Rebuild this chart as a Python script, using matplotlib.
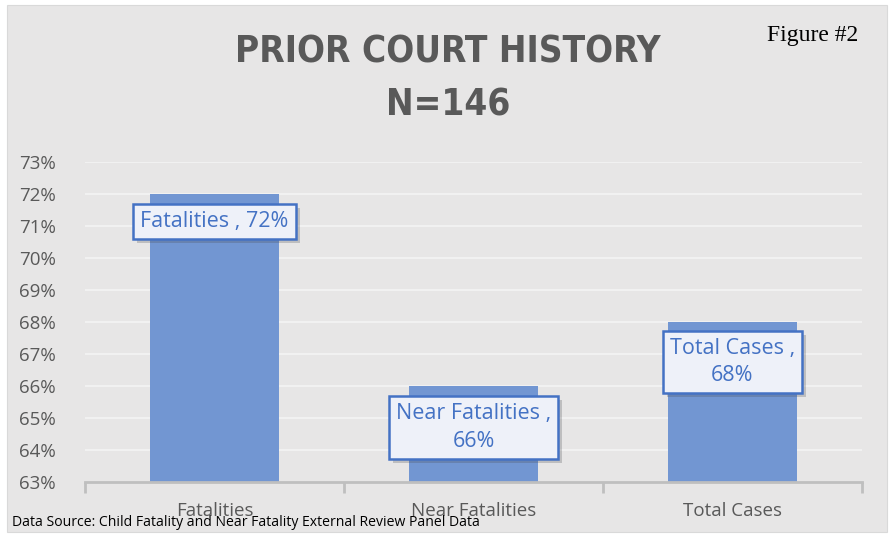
import matplotlib
matplotlib.use("Agg")
from matplotlib import pyplot as plt
import matplotlib.patches as mpatches
import matplotlib.patheffects as pe

categories = ['Fatalities', 'Near Fatalities', 'Total Cases']
values = [72, 66, 68]
box_texts = ['Fatalities , 72%', 'Near Fatalities ,\n66%', 'Total Cases ,\n68%']
yticks = list(range(63, 74))

sans = ['Open Sans', 'DejaVu Sans']
grey_txt = '#595959'
bar_col = '#7296d2'
blue = '#4472c4'

fig = plt.figure(figsize=(8.94, 5.35), dpi=100)
fig.patch.set_facecolor('white')
# grey chart area
fig.patches.append(mpatches.Rectangle((7 / 894, 3 / 535), 880 / 894, 527 / 535,
                                      transform=fig.transFigure, facecolor='#e7e6e6',
                                      edgecolor='#d9d9d9', linewidth=0.8, zorder=-5))

ax = fig.add_axes([85 / 894, 53 / 535, 777 / 894, 320 / 535])
ax.set_facecolor('none')
x = list(range(len(categories)))
ax.bar(x, [v - 63 for v in values], bottom=63, width=0.495, color=bar_col, zorder=2)
ax.set_xlim(-0.5, 2.5)
ax.set_ylim(63, 73)
ax.set_yticks(yticks)
ax.set_yticklabels([str(t) + '%' for t in yticks], family=sans, fontsize=13.5, color=grey_txt)
for t in yticks[1:]:
    ax.axhline(t, color='#f4f4f4', linewidth=1.2, zorder=1)
for s in ['top', 'right', 'left']:
    ax.spines[s].set_visible(False)
ax.spines['bottom'].set_color('#bfbfbf')
ax.spines['bottom'].set_linewidth(2)
ax.tick_params(axis='y', length=0, pad=21)
ax.set_xticks([-0.5, 0.5, 1.5, 2.5])
ax.set_xticklabels([])
ax.tick_params(axis='x', length=8, width=2, color='#bfbfbf', direction='out')
for i, c in enumerate(categories):
    ax.text(i, 62.1, c, ha='center', va='center', family=sans, fontsize=13.5,
            color=grey_txt, clip_on=False)

# data labels
offsets = [0.85, 1.3, 1.25]
for i, (v, s) in enumerate(zip(values, box_texts)):
    ax.text(i, v - offsets[i], s, ha='center', va='center', family=sans, fontsize=15.5,
            color=blue, linespacing=1.4, zorder=5,
            bbox=dict(boxstyle='square,pad=0.33', facecolor='#eef1f9', edgecolor=blue,
                      linewidth=1.8,
                      path_effects=[pe.SimplePatchShadow(offset=(3, -3), alpha=0.25),
                                    pe.Normal()]))

fig.text(448 / 894, 1 - 52 / 535, 'PRIOR COURT HISTORY', ha='center', va='center',
         family=['DejaVu Sans'], stretch='condensed', fontsize=26.5, fontweight='bold',
         color=grey_txt)
fig.text(448 / 894, 1 - 105 / 535, 'N=146', ha='center', va='center',
         family=['DejaVu Sans'], stretch='condensed', fontsize=26.5, fontweight='bold',
         color=grey_txt)
fig.text(813 / 894, 1 - 35 / 535, 'Figure #2', ha='center', va='center',
         family=['Liberation Serif', 'DejaVu Serif'], fontsize=17, color='black')
fig.text(12 / 894, 1 - 522 / 535, 'Data Source: Child Fatality and Near Fatality External Review Panel Data',
         ha='left', va='center', family=sans, fontsize=10.1, color='black')

plt.savefig('out.png', dpi=100)
